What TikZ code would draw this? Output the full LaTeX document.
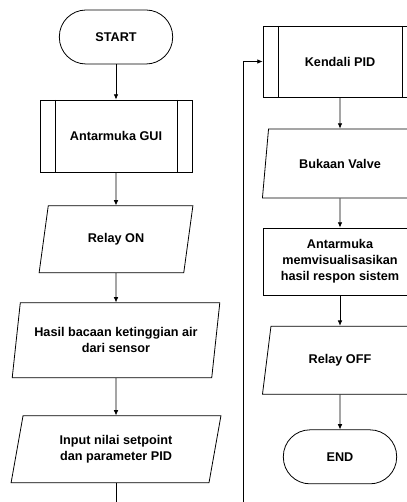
\documentclass[tikz,border=0pt]{standalone}
\usepackage{fontspec}
\setmainfont{Liberation Sans}
\usetikzlibrary{shapes.geometric,arrows.meta}

\begin{document}
\begin{tikzpicture}[x=0.75pt, y=-0.75pt, node distance=75pt, line width=0.6pt,
  every node/.style={font=\fontsize{9.5}{12}\selectfont\bfseries, align=center},
  terminal/.style={rectangle, draw, rounded corners=20pt, minimum width=85pt, minimum height=40.5pt},
  subproc/.style={rectangle, draw, minimum width=114pt, minimum height=54pt,
    path picture={\draw ([xshift=11.25pt]path picture bounding box.north west) -- ([xshift=11.25pt]path picture bounding box.south west)
      ([xshift=-11.25pt]path picture bounding box.north east) -- ([xshift=-11.25pt]path picture bounding box.south east);}},
  io/.style={trapezium, draw, trapezium left angle=78, trapezium right angle=102,
    trapezium stretches=true, minimum height=50.25pt},
  process/.style={rectangle, draw, minimum width=115.5pt, minimum height=50.25pt},
  flow/.style={-{Latex[length=4pt,width=3.5pt]}}]

  \useasboundingbox (0,0) rectangle (406,502);

  % left column
  \node[terminal] (start) at (116,37) {START};
  \node[subproc] (gui) [below of=start, node distance=74.25pt] {Antarmuka GUI};
  \node[io, minimum width=115.5pt] (relayon) [below of=gui, node distance=77.5pt] {Relay ON};
  \node[io, minimum width=156pt, minimum height=56.25pt] (hasil) [below of=relayon, node distance=75.75pt] {Hasil bacaan ketinggian air\\dari sensor};
  \node[io, minimum width=157.5pt] (input) [below of=hasil, node distance=81.75pt] {Input nilai setpoint\\dan parameter PID};

  % right column
  \node[subproc, minimum width=115.5pt, minimum height=53.25pt] (kendali) at (340,61.5) {Kendali PID};
  \node[io, minimum width=117pt, minimum height=51.75pt] (bukaan) [below of=kendali, node distance=76.5pt] {Bukaan Valve};
  \node[process] (visual) [below of=bukaan, node distance=73.5pt] {Antarmuka\\memvisualisasikan\\hasil respon sistem};
  \node[io, minimum width=117pt, minimum height=51pt] (relayoff) [below of=visual, node distance=74pt] {Relay OFF};
  \node[terminal] (end) [below of=relayoff, node distance=72.5pt] {END};

  \coordinate (loop) at (243,540);

  \path[flow]
  (start) edge (gui)
  (gui) edge (relayon)
  (relayon) edge (hasil)
  (hasil) edge (input)
  (kendali) edge (bukaan)
  (bukaan) edge (visual)
  (visual) edge (relayoff)
  (relayoff) edge (end)
  ;
  \draw[flow] (input) |- (loop) |- (kendali);
\end{tikzpicture}
\end{document}
